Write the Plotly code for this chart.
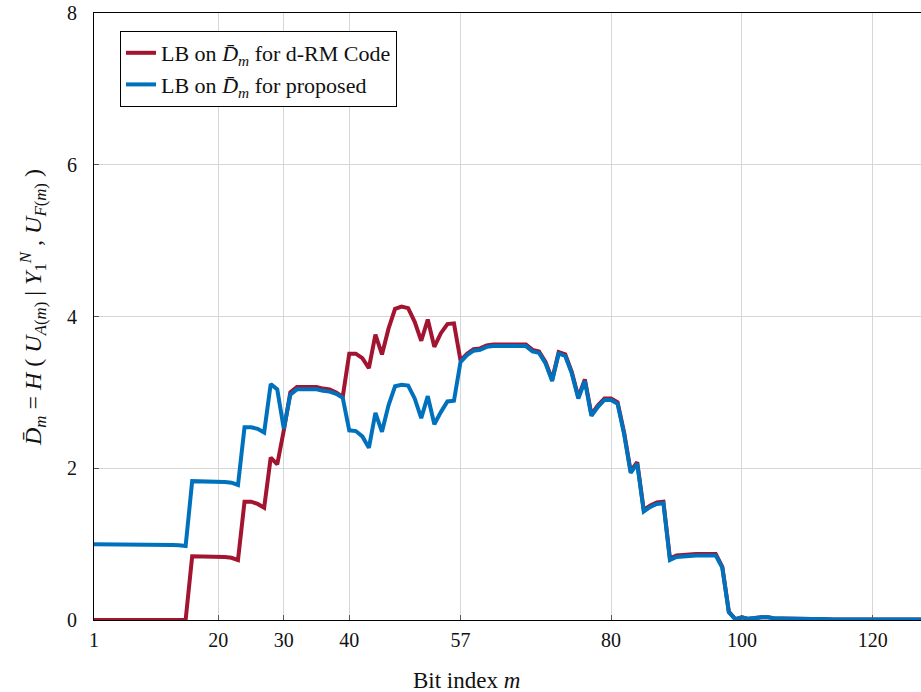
import plotly.graph_objects as go

bit_index = list(range(1, 129))

lb_drm = (
    [0.0] * 15
    + [0.84, 0.84, 0.84, 0.84, 0.83, 0.83, 0.82, 0.79]
    + [1.56, 1.56, 1.53, 1.48, 2.14, 2.05, 2.50, 3.00]
    + [3.07, 3.07, 3.07, 3.07, 3.05, 3.04, 3.00, 2.94]
    + [3.51, 3.51, 3.45, 3.32, 3.76, 3.50, 3.84, 4.10, 4.13, 4.11, 3.93, 3.68, 3.96, 3.60, 3.78, 3.90, 3.91, 3.42]
    + [3.51, 3.57, 3.58, 3.62, 3.63, 3.63, 3.63, 3.63, 3.63, 3.63, 3.56, 3.54, 3.40, 3.17, 3.53, 3.50, 3.27, 2.94, 3.17, 2.71, 2.83, 2.92, 2.92, 2.87, 2.47, 1.96, 2.08, 1.45, 1.51, 1.55, 1.56]
    + [0.81, 0.85, 0.86, 0.87, 0.87, 0.87, 0.87, 0.87, 0.70, 0.11, 0.01, 0.035, 0.015, 0.03, 0.035, 0.035, 0.02, 0.02, 0.02, 0.02, 0.02, 0.02, 0.02, 0.02, 0.01]
    + [0.005] * 15
)

lb_proposed = (
    [1.0, 1.0, 1.0, 1.0, 1.0, 1.0, 0.995, 0.995, 0.995, 0.99, 0.99, 0.99, 0.99, 0.985, 0.975]
    + [1.83, 1.83, 1.83, 1.83, 1.82, 1.82, 1.81, 1.78]
    + [2.54, 2.54, 2.52, 2.47, 3.11, 3.04, 2.52, 2.97]
    + [3.04, 3.04, 3.04, 3.04, 3.02, 3.01, 2.98, 2.93]
    + [2.50, 2.49, 2.42, 2.27, 2.73, 2.48, 2.83, 3.08, 3.10, 3.09, 2.92, 2.66, 2.95, 2.58, 2.74, 2.88, 2.89, 3.40]
    + [3.49, 3.55, 3.56, 3.60, 3.61, 3.61, 3.61, 3.61, 3.61, 3.61, 3.54, 3.52, 3.38, 3.15, 3.51, 3.48, 3.25, 2.92, 3.15, 2.69, 2.81, 2.90, 2.90, 2.85, 2.45, 1.94, 2.06, 1.43, 1.49, 1.53, 1.54]
    + [0.79, 0.83, 0.84, 0.85, 0.85, 0.85, 0.85, 0.85, 0.69, 0.10, 0.01, 0.035, 0.015, 0.03, 0.035, 0.035, 0.02, 0.02, 0.02, 0.02, 0.02, 0.02, 0.02, 0.02, 0.01]
    + [0.005] * 15
)

x_ticks = [1, 20, 30, 40, 57, 80, 100, 120]
y_ticks = [0, 2, 4, 6, 8]

FONT = "Liberation Serif"
RED = "#A2142F"
BLUE = "#0072BD"

W, H = 921, 692
L, T, B = 94, 13, 72
PW = W - L
PH = H - T - B

fig = go.Figure()
fig.add_trace(go.Scatter(
    x=bit_index, y=lb_drm, mode="lines",
    line=dict(color=RED, width=4),
    name="LB on <i>D̄</i><sub><i>m</i></sub> for d-RM Code",
))
fig.add_trace(go.Scatter(
    x=bit_index, y=lb_proposed, mode="lines",
    line=dict(color=BLUE, width=4),
    name="LB on <i>D̄</i><sub><i>m</i></sub> for proposed",
))

fig.update_layout(
    width=W, height=H,
    margin=dict(l=L, r=0, t=T, b=B),
    plot_bgcolor="white", paper_bgcolor="white",
    font=dict(family=FONT, size=20, color="#111"),
    showlegend=True,
    legend=dict(
        x=(120 - 94) / PW, y=1 - (31 - 13) / PH, xanchor="left", yanchor="top",
        bgcolor="white", bordercolor="black", borderwidth=1,
        font=dict(family=FONT, size=22, color="#111"),
        tracegroupgap=0, itemwidth=30,
    ),
)

fig.update_xaxes(
    range=[1, 127.36], tickvals=x_ticks, ticktext=[str(v) for v in x_ticks],
    showgrid=True, gridcolor="#d6d6d6", gridwidth=1,
    showline=True, linecolor="black", linewidth=1, mirror=True,
    ticks="inside", ticklen=5, tickcolor="#555", tickwidth=1,
    tickfont=dict(family=FONT, size=20, color="#111"),
    zeroline=False, ticklabelstandoff=2,
)
fig.update_yaxes(
    range=[0, 8], tickvals=y_ticks,
    showgrid=True, gridcolor="#d6d6d6", gridwidth=1,
    showline=True, linecolor="black", linewidth=1, mirror=False,
    ticks="inside", ticklen=5, tickcolor="#555", tickwidth=1,
    tickfont=dict(family=FONT, size=20, color="#111"),
    zeroline=False, ticklabelstandoff=12,
)

fig.add_annotation(
    xref="paper", yref="paper", x=(466 - 94) / PW, y=-(680 - 620) / PH,
    xanchor="center", yanchor="middle", showarrow=False,
    text="Bit index <i>m</i>", font=dict(family=FONT, size=23, color="#111"),
)
fig.add_annotation(
    xref="paper", yref="paper", x=-(94 - 33) / PW, y=(620 - 308) / PH,
    xanchor="center", yanchor="middle", showarrow=False, textangle=-90,
    text="<i>D̄</i><sub><i>m</i></sub> = <i>H</i> ( <i>U</i><sub><i>A</i>(<i>m</i>)</sub> | <i>Y</i><sub>1</sub><sup><i>N</i></sup> , <i>U</i><sub><i>F</i>(<i>m</i>)</sub> )",
    font=dict(family=FONT, size=24, color="#111"),
)

fig.write_html(
    "out.html",
    config={"displayModeBar": False},
    post_script="document.body.style.margin='0';document.body.style.padding='0';",
)
